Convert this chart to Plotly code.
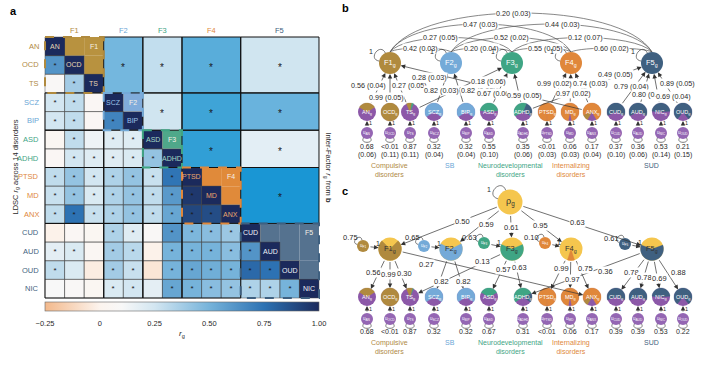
import math
import plotly.graph_objects as go

W, H = 707, 365
FONT = 'Liberation Sans, Arial, Helvetica, sans-serif'

# ---------------- DATA ----------------
disorders = ['AN', 'OCD', 'TS', 'SCZ', 'BIP', 'ASD', 'ADHD', 'PTSD', 'MD', 'ANX', 'CUD', 'AUD', 'OUD', 'NIC']
factors = ['F1', 'F2', 'F3', 'F4', 'F5']
factor_of = {'AN': 'F1', 'OCD': 'F1', 'TS': 'F1', 'SCZ': 'F2', 'BIP': 'F2', 'ASD': 'F3', 'ADHD': 'F3',
             'PTSD': 'F4', 'MD': 'F4', 'ANX': 'F4', 'CUD': 'F5', 'AUD': 'F5', 'OUD': 'F5', 'NIC': 'F5'}

# LDSC rg, lower triangle (row disorder vs. earlier disorders)
rg_lower = {
    'OCD': [0.62],
    'TS': [0.08, 0.38],
    'SCZ': [0.25, 0.30, 0.06],
    'BIP': [0.25, 0.30, 0.06, 0.68],
    'ASD': [0.04, 0.30, 0.14, 0.20, 0.20],
    'ADHD': [0.06, 0.25, 0.20, 0.20, 0.22, 0.42],
    'PTSD': [0.30, 0.42, 0.25, 0.35, 0.42, 0.28, 0.74],
    'MD': [0.28, 0.42, 0.22, 0.35, 0.42, 0.30, 0.60, 0.95],
    'ANX': [0.30, 0.75, 0.28, 0.35, 0.42, 0.30, 0.55, 0.90, 0.88],
    'CUD': [-0.01, 0.06, 0.04, 0.35, 0.20, 0.08, 0.62, 0.48, 0.45, 0.40],
    'AUD': [0.18, 0.22, 0.05, 0.38, 0.32, -0.01, 0.50, 0.50, 0.50, 0.45, 0.62],
    'OUD': [0.30, 0.22, -0.03, 0.38, 0.28, -0.06, 0.50, 0.55, 0.52, 0.50, 0.78, 0.75],
    'NIC': [0.10, 0.08, 0.04, 0.22, 0.25, 0.18, 0.55, 0.50, 0.45, 0.42, 0.35, 0.35, 0.50],
}
rg_signif = {
    'OCD': [1],
    'TS': [0, 1],
    'SCZ': [1, 1, 0],
    'BIP': [1, 1, 0, 1],
    'ASD': [0, 1, 0, 1, 1],
    'ADHD': [0, 1, 1, 1, 1, 1],
    'PTSD': [1, 1, 1, 1, 1, 1, 1],
    'MD': [1, 1, 1, 1, 1, 1, 1, 1],
    'ANX': [1, 1, 1, 1, 1, 1, 1, 1, 1],
    'CUD': [0, 0, 0, 1, 1, 0, 1, 1, 1, 1],
    'AUD': [1, 1, 0, 1, 1, 0, 1, 1, 1, 1, 1],
    'OUD': [1, 0, 0, 1, 1, 0, 1, 1, 1, 1, 1, 1],
    'NIC': [0, 0, 0, 1, 1, 0, 1, 1, 1, 1, 1, 1, 1],
}

# inter-factor correlations (panel b)
fcor_pairs = [('F1', 'F2'), ('F1', 'F3'), ('F1', 'F4'), ('F1', 'F5'), ('F2', 'F3'),
              ('F2', 'F4'), ('F2', 'F5'), ('F3', 'F4'), ('F3', 'F5'), ('F4', 'F5')]
fcor_b = [0.42, 0.27, 0.47, 0.20, 0.20, 0.52, 0.44, 0.55, 0.12, 0.60]
fcor_b_se = [0.03, 0.05, 0.03, 0.03, 0.04, 0.02, 0.03, 0.05, 0.07, 0.02]

# path-diagram indicators (order in panels b and c)
path_indicators = ['AN', 'OCD', 'TS', 'SCZ', 'BIP', 'ASD', 'ADHD', 'PTSD', 'MD', 'ANX', 'CUD', 'AUD', 'NIC', 'OUD']
load_factor = ['F1', 'F1', 'F1', 'F1', 'F2', 'F2', 'F3', 'F3', 'F3', 'F4', 'F4', 'F4', 'F5', 'F5', 'F5', 'F5', 'F5']
load_indicator = ['AN', 'OCD', 'TS', 'ANX', 'SCZ', 'BIP', 'TS', 'ASD', 'ADHD', 'PTSD', 'MD', 'ANX',
                  'ADHD', 'CUD', 'AUD', 'NIC', 'OUD']
load_b = [0.56, 0.99, 0.27, 0.28, 0.82, 0.82, 0.18, 0.67, 0.59, 0.99, 0.97, 0.74, 0.49, 0.79, 0.80, 0.69, 0.89]
load_b_se = [0.04, 0.05, 0.05, 0.03, 0.03, 0.02, 0.06, 0.06, 0.05, 0.02, 0.02, 0.03, 0.05, 0.04, 0.03, 0.04, 0.05]
resid_b = [0.68, 0.004, 0.87, 0.32, 0.32, 0.55, 0.35, 0.004, 0.06, 0.17, 0.37, 0.36, 0.53, 0.21]
resid_b_se = [0.06, 0.11, 0.11, 0.04, 0.04, 0.10, 0.06, 0.03, 0.03, 0.04, 0.10, 0.06, 0.14, 0.15]

load_c = [0.56, 0.99, 0.30, 0.27, 0.82, 0.82, 0.13, 0.57, 0.63, 0.99, 0.97, 0.75, 0.36, 0.78, 0.78, 0.69, 0.88]
resid_c = [0.68, 0.004, 0.87, 0.32, 0.32, 0.67, 0.31, 0.004, 0.06, 0.17, 0.39, 0.39, 0.53, 0.22]
rho_load = [0.50, 0.59, 0.61, 0.95, 0.63]
factor_resid_c = [0.75, 0.65, 0.63, 0.10, 0.61]

groups = ['Compulsive<br>disorders', 'SB', 'Neurodevelopmental<br>disorders', 'Internalizing<br>disorders', 'SUD']
cbar_ticks = [-0.25, 0, 0.25, 0.5, 0.75, 1.0]
cbar_ticktext = ['\u22120.25', '0', '0.25', '0.50', '0.75', '1.00']

# ---------------- STYLE / LAYOUT ----------------
FCOL = {'F1': '#b08a3e', 'F2': '#74aad8', 'F3': '#3fa584', 'F4': '#e0873a', 'F5': '#3f6080'}
HCOL = {'F1': '#b8923f', 'F2': '#80acdb', 'F3': '#4fa88a', 'F4': '#e08a3a', 'F5': '#55728f'}
LCOL = {'F1': '#b08a45', 'F2': '#6aa6d6', 'F3': '#3fa585', 'F4': '#e0883c', 'F5': '#3f5f80'}
DCOL = {'F1': '#e6d7b5', 'F2': '#9cc3ea', 'F3': '#a6d9c5', 'F4': '#e9a66c', 'F5': '#eef2f7'}
PURPLE = '#8c58a8'
UPURPLE = '#9466b3'
YELLOW = '#f5c64e'
TXT = '#2a2a2a'

cs_main = [[0, '#f3b98c'], [0.2, '#fcf4ee'], [0.28, '#f8f8f8'], [0.4, '#d3e6f1'],
           [0.6, '#76b3da'], [0.8, '#2d72b3'], [1, '#1b2a5c']]
cs_block = [[0, '#f0f5f8'], [0.185, '#e3eef5'], [0.31, '#d0e5f0'], [0.415, '#c2deee'],
            [0.646, '#74b7de'], [0.77, '#48a7d8'], [0.923, '#1a96d4'], [1, '#1090d0']]

# heatmap geometry (pixels)
GX0, GX1, GY0, GY1 = 45, 319, 37, 298
n = len(disorders)
cw = (GX1 - GX0) / n
ch = (GY1 - GY0) / n
PADU = 0.2
xdom = [(GX0 - PADU * cw) / W, (GX1 + PADU * cw) / W]
ydom = [1 - (GY1 + PADU * ch) / H, 1 - (GY0 - PADU * ch) / H]

# diagram geometry (pixels)
FX = [390, 451, 512, 571, 652]
IX = [367, 390, 410, 434, 466, 489, 523, 547, 570, 592, 616, 638, 661, 683]
GXL = [389, 450, 510, 571, 651]
B = dict(fy=63, iy=112, uy=133, vy=146, sy=155, gy=161, fr=11, ir=9, ur=6)
C = dict(fy=249, iy=297, uy=319, vy=331, gy=338, fr=11.5, ir=9, ur=6, rx=510, ry=202, rr=12.5)
UFX = [363, 424, 484, 545, 625]
UFY = [246, 246, 243, 243, 244]
ARC_PEAK = {1: 48, 2: 37.5, 3: 24, 4: 13}
ARC_DX = [0, -11, 0, -8, 0, 0, 11, 4, 3, 0]
LAB_B = [(368, 85), (386, 97), (409, 85), (429, 77), (441, 90), (478, 90), (488, 81), (494, 93), (524, 95),
         (554, 83), (573, 93), (590, 83), (615, 74), (631, 86), (649, 94), (673, 96), (677, 83)]
LAB_C = [(373, 272), (388, 274), (404, 273), (426, 264), (441, 281), (463, 281), (482, 261), (503, 269),
         (519, 267), (561, 268), (572, 279), (585, 268), (605, 271), (631, 272), (644, 277), (659, 278), (678, 272)]
RHO_LAB = [(462, 221), (486, 224), (511, 227), (540, 225), (577, 222)]
UF_LAB = [(350, 237), (412, 237), (469, 237), (531, 237), (611, 238)]

annotations = []
shapes = []


def fmt_res(v):
    return '<0.01' if v < 0.01 else f'{v:.2f}'


def t2(x, y, s, size=7, color=TXT, xanchor='center', yanchor='middle', bg=None, angle=0):
    d = dict(x=x, y=y, xref='x2', yref='y2', text=s, showarrow=False,
             font=dict(size=size, color=color, family=FONT), xanchor=xanchor, yanchor=yanchor,
             textangle=angle, borderpad=0)
    if bg:
        d['bgcolor'] = bg
    annotations.append(d)


def arr(x0, y0, x1, y1, head=True, so=0, sso=0, color='#333', w=0.7):
    annotations.append(dict(x=x1, y=y1, ax=x0, ay=y0, xref='x2', yref='y2', axref='x2', ayref='y2',
                            text='', showarrow=True, arrowhead=2 if head else 0, arrowsize=1.3,
                            arrowwidth=w, arrowcolor=color, standoff=so, startstandoff=sso))


def circ(cx, cy, r, fill, lc=None, lw=0):
    shapes.append(dict(type='circle', xref='x2', yref='y2', x0=cx - r, x1=cx + r, y0=cy - r, y1=cy + r,
                       fillcolor=fill, line=dict(color=lc or fill, width=lw), layer='above'))


def wedge_path(cx, cy, r, a0, a1):
    m = max(4, int(abs(a1 - a0) / 6) + 2)
    pts = [f'M{cx:.2f},{cy:.2f}']
    for k in range(m + 1):
        a = math.radians(a0 + (a1 - a0) * k / m)
        pts.append(f'L{cx + r * math.cos(a):.2f},{cy - r * math.sin(a):.2f}')
    pts.append('Z')
    return ' '.join(pts)


def wedge(cx, cy, r, a0, a1, fill):
    shapes.append(dict(type='path', xref='x2', yref='y2', path=wedge_path(cx, cy, r, a0, a1),
                       fillcolor=fill, line=dict(color=fill, width=0.3), layer='above'))


def loop(cx, cy, r, a1, a2, k=2.1, color='#444'):
    r1, r2 = math.radians(a1), math.radians(a2)
    p0 = (cx + r * math.cos(r1), cy - r * math.sin(r1))
    p3 = (cx + r * math.cos(r2), cy - r * math.sin(r2))
    c1 = (cx + k * r * math.cos(r1), cy - k * r * math.sin(r1))
    c2 = (cx + k * r * math.cos(r2), cy - k * r * math.sin(r2))
    shapes.append(dict(type='path', xref='x2', yref='y2',
                       path=f'M{p0[0]:.2f},{p0[1]:.2f} C{c1[0]:.2f},{c1[1]:.2f} {c2[0]:.2f},{c2[1]:.2f} {p3[0]:.2f},{p3[1]:.2f}',
                       line=dict(color=color, width=0.7), fillcolor='rgba(0,0,0,0)', layer='above'))


def indicator_pie(cx, cy, r, res, loads):
    circ(cx, cy, r, PURPLE)
    total = 1 - res
    sq = sum(l * l for _, l in loads)
    a = -90 + 180 * res
    for f, l in sorted(loads, key=lambda t: -t[0]):
        span = 360 * total * (l * l / sq)
        if span > 0.5:
            wedge(cx, cy, r, a, a + span, FCOL[factors[f]])
        a += span


# ---------------- HEATMAP (panel a) ----------------
idx = {d: i for i, d in enumerate(disorders)}
members = {f: [d for d in disorders if factor_of[d] == f] for f in factors}
Z = [[None] * n for _ in range(n)]
T = [[''] * n for _ in range(n)]
for d, vals in rg_lower.items():
    i = idx[d]
    for j, v in enumerate(vals):
        Z[i][j] = v
        T[i][j] = '*' if rg_signif[d][j] else ''
for i in range(n):
    Z[i][i] = 1.0
ZB = [[None] * n for _ in range(n)]
for (fa, fb), v in zip(fcor_pairs, fcor_b):
    for da in members[fa]:
        for db in members[fb]:
            ZB[idx[da]][idx[db]] = v

fig = go.Figure()
fig.add_trace(go.Heatmap(
    z=Z, x=list(range(n)), y=list(range(n)), colorscale=cs_main, zmin=-0.25, zmax=1,
    text=T, texttemplate='%{text}', textfont=dict(size=8, color='#1a1a1a', family=FONT),
    hoverinfo='skip', xaxis='x', yaxis='y',
    colorbar=dict(orientation='h', x=(GX0 + GX1) / 2 / W, xanchor='center', y=1 - 302 / H, yanchor='top',
                  len=(GX1 - GX0) / W, lenmode='fraction', thickness=9, xpad=0, ypad=0,
                  outlinewidth=0.6, outlinecolor='#666', tickvals=cbar_ticks, ticktext=cbar_ticktext,
                  ticks='outside', ticklen=6, tickcolor='rgba(0,0,0,0)',
                  tickfont=dict(size=7.5, color=TXT, family=FONT))))
fig.add_trace(go.Heatmap(z=ZB, x=list(range(n)), y=list(range(n)), colorscale=cs_block, zmin=0, zmax=0.65,
                         showscale=False, hoverinfo='skip', xaxis='x', yaxis='y'))
fig.add_trace(go.Scatter(x=[0], y=[0], xaxis='x2', yaxis='y2', mode='markers', marker=dict(opacity=0),
                         hoverinfo='skip', showlegend=False))


def hrect(x0, x1, y0, y1, **kw):
    d = dict(type='rect', xref='x', yref='y', x0=x0, x1=x1, y0=y0, y1=y1)
    d.update(kw)
    shapes.append(d)


frange = {f: (idx[members[f][0]], idx[members[f][-1]]) for f in factors}
# within-factor upper cells
for f in factors:
    s, e = frange[f]
    for i in range(s, e + 1):
        for j in range(i + 1, e + 1):
            hrect(j - 0.5, j + 0.5, i - 0.5, i + 0.5, fillcolor=HCOL[f], line=dict(width=0), layer='below')
# lower-triangle cell borders
for i in range(n):
    for j in range(i + 1):
        hrect(j - 0.5, j + 0.5, i - 0.5, i + 0.5, line=dict(color='#4a4a4a', width=0.5))
# block borders (upper and lower)
for fa, fb in fcor_pairs:
    sa, ea = frange[fa]
    sb, eb = frange[fb]
    hrect(sb - 0.5, eb + 0.5, sa - 0.5, ea + 0.5, line=dict(color='#111', width=1))
    hrect(sa - 0.5, ea + 0.5, sb - 0.5, eb + 0.5, line=dict(color='#111', width=0.9))
    annotations.append(dict(x=(sb + eb) / 2, y=(sa + ea) / 2 + 0.12, xref='x', yref='y', text='*',
                            showarrow=False, font=dict(size=10, color='#1a1a1a', family=FONT)))
# dashed factor boxes
for f in factors:
    s, e = frange[f]
    hrect(s - 0.5, e + 0.5, s - 0.5, e + 0.5, line=dict(color=FCOL[f], width=2, dash='dash'))
# labels
for d in disorders:
    i = idx[d]
    f = factor_of[d]
    annotations.append(dict(x=i, y=i, xref='x', yref='y', text=d, showarrow=False,
                            font=dict(size=7, color=DCOL[f], family=FONT)))
    annotations.append(dict(x=(GX0 - 4) / W, y=i, xref='paper', yref='y', text=d, showarrow=False,
                            xanchor='right', yanchor='middle', font=dict(size=7.5, color=LCOL[f], family=FONT)))
for f in factors:
    s, e = frange[f]
    annotations.append(dict(x=(s + e) / 2, y=1 - 31 / H, xref='x', yref='paper', text=f, showarrow=False,
                            xanchor='center', yanchor='middle',
                            font=dict(size=7.5, color=LCOL[f], family=FONT)))
    annotations.append(dict(x=e, y=s, xref='x', yref='y', text=f, showarrow=False,
                            font=dict(size=7, color='#f6f1e6', family=FONT)))

annotations.append(dict(x=15 / W, y=1 - (GY0 + GY1) / 2 / H, xref='paper', yref='paper', textangle=-90,
                        xanchor='center', yanchor='middle',
                        text='LDSC <i>r</i><sub>g</sub> across 14 disorders', showarrow=False,
                        font=dict(size=7.5, color=TXT, family=FONT)))
annotations.append(dict(x=328 / W, y=1 - (GY0 + GY1) / 2 / H, xref='paper', yref='paper', textangle=90,
                        xanchor='center', yanchor='middle',
                        text='Inter-Factor <i>r</i><sub>g</sub> from <b>b</b>', showarrow=False,
                        font=dict(size=7.5, color=TXT, family=FONT)))
t2((GX0 + GX1) / 2, 334, '<i>r</i><sub>g</sub>', size=8)

# panel letters
t2(13, 11, '<b>a</b>', size=11, color='#000')
t2(345, 8, '<b>b</b>', size=11, color='#000')
t2(345, 191, '<b>c</b>', size=11, color='#000')

# ---------------- PANEL b ----------------
fy, fr, iy, ir, uy, ur = B['fy'], B['fr'], B['iy'], B['ir'], B['uy'], B['ur']
# arcs (inter-factor correlations)
for k, ((fa, fb), v, se) in enumerate(zip(fcor_pairs, fcor_b, fcor_b_se)):
    a, b = factors.index(fa), factors.index(fb)
    yp = ARC_PEAK[b - a]
    xa, xb = FX[a], FX[b]
    y0 = fy - fr
    yc = (8 * yp - 2 * y0) / 6
    dx = xb - xa
    shapes.append(dict(type='path', xref='x2', yref='y2',
                       path=f'M{xa},{y0} C{xa + 0.12 * dx:.2f},{yc:.2f} {xb - 0.12 * dx:.2f},{yc:.2f} {xb},{y0}',
                       line=dict(color='#555', width=0.7), fillcolor='rgba(0,0,0,0)', layer='above'))
# loadings (lines)
pidx = {d: i for i, d in enumerate(path_indicators)}
for f, d in zip(load_factor, load_indicator):
    fi, ii = factors.index(f), pidx[d]
    arr(IX[ii], iy, FX[fi], fy, head=True, so=fr, sso=ir)
# residual arrows
for i in range(len(path_indicators)):
    arr(IX[i], uy, IX[i], iy, head=True, so=ir, sso=ur)
# arc labels
for k, ((fa, fb), v, se) in enumerate(zip(fcor_pairs, fcor_b, fcor_b_se)):
    a, b = factors.index(fa), factors.index(fb)
    t2((FX[a] + FX[b]) / 2 + ARC_DX[k], ARC_PEAK[b - a], f'{v:.2f} ({se:.2f})', size=7.2, bg='white')
# loading labels
for (x, y), v, se in zip(LAB_B, load_b, load_b_se):
    t2(x, y, f'{v:.2f} ({se:.2f})', size=7.2, bg='white')
# factor nodes
for k, f in enumerate(factors):
    circ(FX[k], fy, fr, FCOL[f])
    loop(FX[k], fy, fr, 115, 170)
    t2(FX[k] - 1.75 * fr, fy - 1.05 * fr, '1', size=7)
    t2(FX[k], fy, f'{f}<sub>g</sub>', size=7.5, color='white')
# indicators
for i, d in enumerate(path_indicators):
    loads = [(factors.index(f), l) for f, dd, l in zip(load_factor, load_indicator, load_b) if dd == d]
    indicator_pie(IX[i], iy, ir, resid_b[i], loads)
    t2(IX[i], iy, f'{d}<sub>g</sub>', size=5.5, color='white')
    circ(IX[i], uy, ur, UPURPLE)
    t2(IX[i], uy, f'u<sub>{d}</sub>', size=4.5, color='white')
    loop(IX[i], uy, ur, 235, 305, k=2.2)
    t2(IX[i] + 3.5, (uy + iy) / 2 + 0.5, '1', size=5.5)
    t2(IX[i], B['vy'], fmt_res(resid_b[i]), size=7)
    t2(IX[i], B['sy'], f'({resid_b_se[i]:.2f})', size=7)
for k, g in enumerate(groups):
    t2(GXL[k], B['gy'], g, size=7, color=LCOL[factors[k]], yanchor='top')

# ---------------- PANEL c ----------------
fy, fr, iy, ir, uy, ur = C['fy'], C['fr'], C['iy'], C['ir'], C['uy'], C['ur']
rx, ry, rr = C['rx'], C['ry'], C['rr']
for k in range(len(factors)):
    arr(rx, ry, FX[k], fy, head=True, so=fr, sso=rr)
    arr(UFX[k], UFY[k], FX[k], fy, head=True, so=fr, sso=ur)
for f, d in zip(load_factor, load_indicator):
    fi, ii = factors.index(f), pidx[d]
    arr(FX[fi], fy, IX[ii], iy, head=True, so=ir, sso=fr)
for i in range(len(path_indicators)):
    arr(IX[i], uy, IX[i], iy, head=True, so=ir, sso=ur)
for (x, y), v in zip(RHO_LAB, rho_load):
    t2(x, y, f'{v:.2f}', size=7.5, bg='white')
for (x, y), v in zip(LAB_C, load_c):
    t2(x, y, f'{v:.2f}', size=7.5, bg='white')
# rho node
circ(rx, ry, rr, YELLOW)
loop(rx, ry, rr, 110, 165)
t2(rx - 1.7 * rr, ry - 1.0 * rr, '1', size=7)
t2(rx, ry, '\u03c1<sub>g</sub>', size=9, color='#333')
# factor nodes
for k, f in enumerate(factors):
    u = factor_resid_c[k]
    circ(FX[k], fy, fr, YELLOW)
    wedge(FX[k], fy, fr, -90 - 180 * u, -90 + 180 * u, FCOL[f])
    t2(FX[k], fy, f'{f}<sub>g</sub>', size=7.5, color='#333')
    circ(UFX[k], UFY[k], ur, FCOL[f])
    t2(UFX[k], UFY[k], f'u<sub>{f}</sub>', size=4.5, color='white')
    loop(UFX[k], UFY[k], ur, 100, 165, k=2.3)
    t2(UF_LAB[k][0], UF_LAB[k][1], f'{u:.2f}', size=7.5)
    t2((UFX[k] + FX[k]) / 2 + 1, (UFY[k] + fy) / 2 - 4, '1', size=7)
# indicators
for i, d in enumerate(path_indicators):
    loads = [(factors.index(f), l) for f, dd, l in zip(load_factor, load_indicator, load_c) if dd == d]
    indicator_pie(IX[i], iy, ir, resid_c[i], loads)
    t2(IX[i], iy, f'{d}<sub>g</sub>', size=5.5, color='white')
    circ(IX[i], uy, ur, UPURPLE)
    t2(IX[i], uy, f'u<sub>{d}</sub>', size=4.5, color='white')
    loop(IX[i], uy, ur, 235, 305, k=2.2)
    t2(IX[i] + 3.5, (uy + iy) / 2 + 0.5, '1', size=5.5)
    t2(IX[i], C['vy'], fmt_res(resid_c[i]), size=7)
for k, g in enumerate(groups):
    t2(GXL[k], C['gy'], g, size=7, color=LCOL[factors[k]], yanchor='top')

fig.update_layout(
    width=W, height=H, margin=dict(l=0, r=0, t=0, b=0, pad=0, autoexpand=False),
    paper_bgcolor='white', plot_bgcolor='rgba(0,0,0,0)', showlegend=False,
    font=dict(family=FONT, size=8, color=TXT),
    xaxis=dict(domain=xdom, range=[-0.5 - PADU, n - 0.5 + PADU], visible=False, fixedrange=True),
    yaxis=dict(domain=ydom, range=[n - 0.5 + PADU, -0.5 - PADU], visible=False, fixedrange=True),
    xaxis2=dict(domain=[0, 1], range=[0, W], visible=False, anchor='y2', fixedrange=True),
    yaxis2=dict(domain=[0, 1], range=[H, 0], visible=False, anchor='x2', fixedrange=True),
    shapes=shapes, annotations=annotations,
)
fig.write_html('out.html', config={'displayModeBar': False, 'staticPlot': True},
               post_script="document.body.style.margin='0px';document.body.style.padding='0px';"
                           "document.body.style.overflow='hidden';")
